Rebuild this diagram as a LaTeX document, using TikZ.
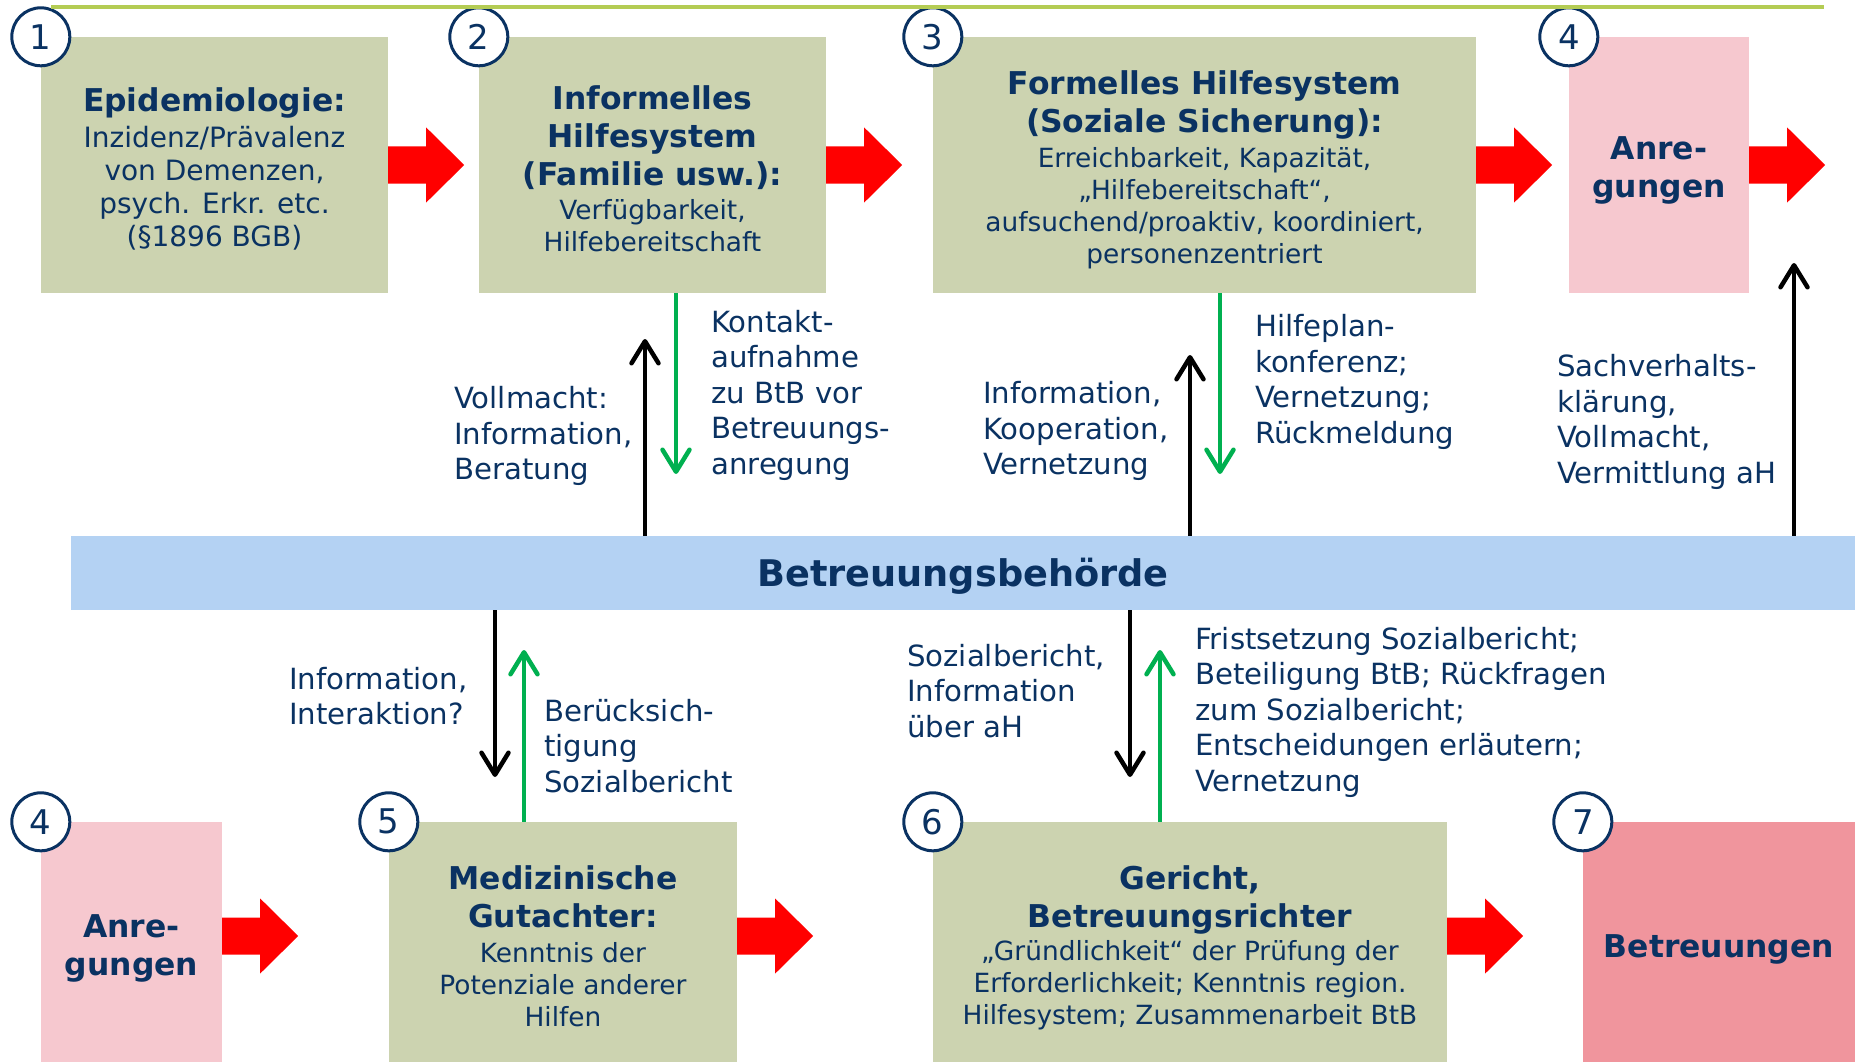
\documentclass[tikz,border=0pt]{standalone}
\usepackage{fontspec}
\setmainfont{DejaVu Sans}
\usetikzlibrary{arrows.meta}

\definecolor{navy}{RGB}{10,50,98}
\definecolor{boxgreen}{RGB}{204,211,176}
\definecolor{anrpink}{RGB}{246,200,207}
\definecolor{btgpink}{RGB}{240,149,157}
\definecolor{barblue}{RGB}{180,210,243}
\definecolor{arrowred}{RGB}{255,0,0}
\definecolor{arrowgreen}{RGB}{0,176,80}
\definecolor{linegreen}{RGB}{180,204,84}

\newcommand{\stagehead}[1]{{\fontsize{31.4}{38}\selectfont\bfseries #1}}

\tikzset{
  stage/.style={fill=boxgreen, inner sep=0pt, minimum height=256pt},
  anregung/.style={stage, fill=anrpink},
  stagetxt/.style={text=navy, align=center, inner sep=0pt, font=\fontsize{26.4}{32}\selectfont},
  headtxt/.style={stagetxt, font=\fontsize{31.4}{38}\selectfont\bfseries},
  num/.style={circle, draw=navy, line width=3pt, fill=white, text=navy,
    inner sep=0pt, minimum size=58pt, font=\fontsize{34}{34}\selectfont},
  lbl/.style={anchor=west, align=left, inner sep=0pt, text=navy,
    font=\fontsize{29.2}{35.5}\selectfont},
  flow/.style={line width=4.5pt, -{Straight Barb[length=22pt,width=27pt,round]}},
  blk/.style={flow, black},
  grn/.style={flow, arrowgreen},
  redarrow/.pic={\fill[arrowred] (0,-18.5) -- (38,-18.5) -- (38,-37.5) -- (76,0)
    -- (38,37.5) -- (38,18.5) -- (0,18.5) -- cycle;}
}

\begin{document}
\begin{tikzpicture}[x=1pt,y=-1pt]
  \useasboundingbox (0,0) rectangle (1855,1062);

  % obere Reihe
  \node[stage, minimum width=347pt] (epi) at (214.5,165) {};
  \node[stage, minimum width=347pt] (inf) at (652.5,165) {};
  \node[stage, minimum width=543pt] (form) at (1204.5,165) {};
  \node[anregung, minimum width=180pt] (anr1) at (1659,165) {};
  \node[stagetxt, font=\fontsize{28}{33}\selectfont] (epit) at ([yshift=-4pt]epi)
    {\stagehead{Epidemiologie:}\\[2.5pt]Inzidenz/Prävalenz\\von Demenzen,\\psych. Erkr. etc.\\(§1896 BGB)};
  \node[stagetxt] (inft) at ([yshift=-4pt]inf)
    {\stagehead{Informelles}\\[6pt]\stagehead{Hilfesystem}\\[6pt]\stagehead{(Familie usw.):}\\[2.5pt]Verfügbarkeit,\\Hilfebereitschaft};
  \node[stagetxt] (formt) at ([yshift=-5pt]form)
    {\stagehead{Formelles Hilfesystem}\\[6pt]\stagehead{(Soziale Sicherung):}\\[2.5pt]Erreichbarkeit, Kapazität,\\„Hilfebereitschaft“,\\aufsuchend/proaktiv, koordiniert,\\personenzentriert};
  \node[headtxt] (anr1t) at ([yshift=-5pt]anr1) {Anre-\\gungen};

  % Behoerde
  \node[fill=barblue, minimum width=1784pt, minimum height=74pt, inner sep=0pt] (bb) at (963,573) {};
  \node[headtxt, font=\fontsize{36.7}{40}\selectfont\bfseries] (bbt) at ([yshift=-3.5pt]bb) {Betreuungsbehörde};

  % untere Reihe
  \node[anregung, minimum width=181pt, minimum height=240pt] (anr2) at (131.5,942) {};
  \node[stage, minimum width=348pt, minimum height=240pt] (med) at (563,942) {};
  \node[stage, minimum width=514pt, minimum height=240pt] (ger) at (1190,942) {};
  \node[stage, fill=btgpink, minimum width=272pt, minimum height=240pt] (btg) at (1719,942) {};
  \node[headtxt] (anr2t) at ([yshift=-6pt]anr2) {Anre-\\gungen};
  \node[stagetxt] (medt) at ([yshift=-4pt]med)
    {\stagehead{Medizinische}\\[6pt]\stagehead{Gutachter:}\\[2.5pt]Kenntnis der\\Potenziale anderer\\Hilfen};
  \node[stagetxt] (gert) at ([yshift=-6pt]ger)
    {\stagehead{Gericht,}\\[6pt]\stagehead{Betreuungsrichter}\\[1.5pt]„Gründlichkeit“ der Prüfung der\\Erforderlichkeit; Kenntnis region.\\Hilfesystem; Zusammenarbeit BtB};
  \node[headtxt] (btgt) at ([yshift=-7pt]btg) {Betreuungen};

  % Blockpfeile
  \pic at (epi.east) {redarrow};
  \pic at (inf.east) {redarrow};
  \pic at (form.east) {redarrow};
  \pic at (anr1.east) {redarrow};
  \pic at ([yshift=6pt]anr2.east) {redarrow};
  \pic at ([yshift=6pt]med.east) {redarrow};
  \pic at ([yshift=6pt]ger.east) {redarrow};

  % Nummern
  \node[num] (n1) at (epi.north west) {1};
  \node[num] (n2) at (inf.north west) {2};
  \node[num] (n3) at (form.north west) {3};
  \node[num] (n4a) at (anr1.north west) {4};
  \node[num] (n4b) at (anr2.north west) {4};
  \node[num] (n5) at (med.north west) {5};
  \node[num] (n6) at (ger.north west) {6};
  \node[num] (n7) at (btg.north west) {7};

  \coordinate (lineL) at (51,7);
  \coordinate (lineR) at (1824,7);
  \draw[linegreen, line width=4pt] (lineL) -- (lineR);

  % Pfeile oben
  \coordinate (u1) at (645,339);
  \coordinate (d1) at (676,474);
  \coordinate (u2) at (1190,355);
  \coordinate (d2) at (1220,474);
  \coordinate (u3) at (1794,263);
  \draw[blk] (bb.north -| u1) -- (u1);
  \draw[grn] (inf.south -| d1) -- (d1);
  \draw[blk] (bb.north -| u2) -- (u2);
  \draw[grn] (form.south -| d2) -- (d2);
  \draw[blk] (bb.north -| u3) -- (u3);

  % Pfeile unten
  \coordinate (d3) at (495,777);
  \coordinate (u4) at (524,650);
  \coordinate (d4) at (1130,777);
  \coordinate (u5) at (1160,650);
  \draw[blk] (bb.south -| d3) -- (d3);
  \draw[grn] (med.north -| u4) -- (u4);
  \draw[blk] (bb.south -| d4) -- (d4);
  \draw[grn] (ger.north -| u5) -- (u5);

  % Beschriftungen
  \node[lbl] (l1) at (454,436) {Vollmacht:\\Information,\\Beratung};
  \node[lbl] (l2) at (711,395) {Kontakt-\\aufnahme\\zu BtB vor\\Betreuungs-\\anregung};
  \node[lbl] (l3) at (983,431) {Information,\\Kooperation,\\Vernetzung};
  \node[lbl] (l4) at (1255,382) {Hilfeplan-\\konferenz;\\Vernetzung;\\Rückmeldung};
  \node[lbl] (l5) at (1557,422) {Sachverhalts-\\klärung,\\Vollmacht,\\Vermittlung aH};
  \node[lbl] (l6) at (289,696) {Information,\\Interaktion?};
  \node[lbl] (l7) at (544,746) {Berücksich-\\tigung\\Sozialbericht};
  \node[lbl] (l8) at (907,691) {Sozialbericht,\\Information\\über aH};
  \node[lbl] (l9) at (1195,712) {Fristsetzung Sozialbericht;\\Beteiligung BtB; Rückfragen\\zum Sozialbericht;\\Entscheidungen erläutern;\\Vernetzung};
\end{tikzpicture}
\end{document}
